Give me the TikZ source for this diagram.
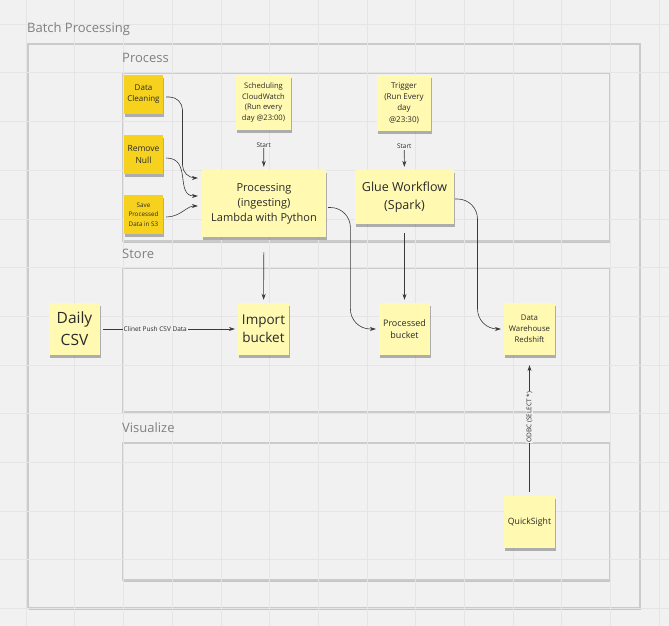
\documentclass[tikz,border=0pt]{standalone}
\usepackage{fontspec}
\setmainfont{Open Sans}
\usepackage{xcolor}
\usetikzlibrary{arrows.meta,shadows,calc}
\definecolor{boardbg}{HTML}{F1F1F1}
\definecolor{gridgray}{HTML}{E5E5E5}
\definecolor{framegray}{HTML}{CBCBCB}
\definecolor{titlegray}{HTML}{808080}
\definecolor{notelight}{HTML}{FFF9B1}
\definecolor{notedark}{HTML}{F6D21E}
\definecolor{notetext}{HTML}{2A2A2A}
\definecolor{linkgray}{HTML}{3A3A3A}

\begin{document}
\begin{tikzpicture}[x=1pt, y=-1pt,
    frame/.style={draw=framegray, line width=1.2pt, fill=boardbg,
      drop shadow={shadow xshift=1.2pt, shadow yshift=-1.8pt, opacity=0.18, fill=black}},
    frametitle/.style={anchor=west, inner sep=0pt, text=titlegray, font={\fontsize{13}{15}\selectfont}},
    sticky/.style={fill=notelight, text=notetext, align=center, inner sep=0pt,
      drop shadow={shadow xshift=0.5pt, shadow yshift=-3pt, opacity=0.28, fill=black}},
    darksticky/.style={sticky, fill=notedark, minimum width=39pt, minimum height=39pt},
    link/.style={draw=linkgray, line width=0.6pt, -{Stealth[length=6pt, width=4pt]}, shorten >=3pt},
    linklabel/.style={text=notetext, inner sep=1pt, fill=boardbg, font={\fontsize{6.5}{8}\selectfont}}]

    % Board
    \useasboundingbox[fill=boardbg] (0,0) rectangle (669,626);

    % Frames
    \draw[frame] (28,44) rectangle (640,608);
    \draw[frame] (123,73) rectangle (610,241);
    \draw[frame] (123,268) rectangle (610,412);
    \draw[frame] (123,443) rectangle (610,580);

    % Grid
    \foreach \i in {0,...,13} {
        \draw[gridgray, line width=0.6pt] ({26+48.7*\i},0) -- ++(0,626);
        \draw[gridgray, line width=0.6pt] (0,{24+48.7*\i}) -- ++(669,0);
    }

    % Frame titles
    \node[frametitle] (batchtitle) at (27,29) {Batch Processing};
    \node[frametitle] (processtitle) at (122,58) {Process};
    \node[frametitle] (storetitle) at (122,254) {Store};
    \node[frametitle] (visualtitle) at (122,428) {Visualize};

    % Process
    \node[darksticky, font={\fontsize{8}{11}\selectfont}] (clean) at (143.5,94.5) {Data\\Cleaning};
    \node[darksticky, font={\fontsize{8.5}{11.5}\selectfont}] (null) at (143.5,154.5) {Remove\\Null};
    \node[darksticky, font={\fontsize{6.3}{9.3}\selectfont}] (save) at (143.5,214.5) {Save\\Processed\\Data in S3};
    \node[sticky, minimum width=55pt, minimum height=55pt, font={\fontsize{7.6}{10.6}\selectfont}] (sched) at (263.5,102.5) {Scheduling\\CloudWatch\\(Run every\\day @23:00)};
    \node[sticky, minimum width=124pt, minimum height=67pt, font={\fontsize{11}{15}\selectfont}] (proc) at (264,203.5) {Processing\\(ingesting)\\Lambda with Python};
    \node[sticky, minimum width=54pt, minimum height=56pt, font={\fontsize{8}{11.2}\selectfont}] (trig) at (404,103) {Trigger\\(Run Every\\day\\@23:30)};
    \node[sticky, minimum width=99pt, minimum height=54pt, font={\fontsize{12.5}{18}\selectfont}] (glue) at (404.5,197) {Glue Workflow\\(Spark)};

    % Store
    \node[sticky, minimum width=51pt, minimum height=52pt, font={\fontsize{15.5}{22}\selectfont}] (csv) at (74.5,329) {Daily\\CSV};
    \node[sticky, minimum width=51pt, minimum height=52pt, font={\fontsize{13.5}{18}\selectfont}] (imp) at (263.5,329) {Import\\bucket};
    \node[sticky, minimum width=51pt, minimum height=52pt, font={\fontsize{9}{12}\selectfont}] (pbk) at (404.5,329) {Processed\\bucket};
    \node[sticky, minimum width=51pt, minimum height=52pt, font={\fontsize{7.8}{10.8}\selectfont}] (dwh) at (529.5,329) {Data\\Warehouse\\Redshift};

    % Visualize
    \node[sticky, minimum width=51pt, minimum height=52pt, font={\fontsize{8.7}{11}\selectfont}] (qs) at (529.5,522) {QuickSight};

    % Links into the lambda
    \draw[link, rounded corners=13pt] ($(clean.east)+(3,2.5)$) -| ($(clean.east)!0.5!(proc.west)$) |- ($(proc.west)+(-1,-25.5)$);
    \draw[link] ($(null.east)+(3,3.5)$) to[out=0, in=180, looseness=1.3] ($(proc.west)+(-1,-7.5)$);
    \draw[link] ($(save.east)+(3,2.5)$) to[out=0, in=180] ($(proc.west)+(-1,2.5)$);

    % Start triggers
    \draw[link, shorten <=12pt] (sched) -- (proc) node[linklabel, pos=0.375] (schedstart) {Start};
    \draw[link, shorten <=12pt] (trig) -- (glue) node[linklabel, pos=0.4] (trigstart) {Start};

    % Into the buckets
    \draw[link, shorten <=15pt] (proc) -- (imp);
    \draw[link, shorten <=9pt] (glue) -- (pbk);
    \draw[link, rounded corners=20pt] ($(proc.east)+(2,4)$) -| ($(proc.east)!0.46!(pbk.west)$) |- (pbk.west);
    \draw[link, rounded corners=20pt] ($(glue.east)+(1,2)$) -| ($(glue.east)!0.47!(dwh.west)$) |- (dwh.west);
    \draw[link, shorten <=3pt] (csv) -- (imp) node[linklabel, pos=0.4] (pushlabel) {Clinet Push CSV Data};

    % Query from QuickSight
    \draw[link, shorten <=4pt, shorten >=10pt] (qs) -- (dwh) node[linklabel, pos=0.56, rotate=90] (odbclabel) {ODBC (SELECT *)};
\end{tikzpicture}
\end{document}
